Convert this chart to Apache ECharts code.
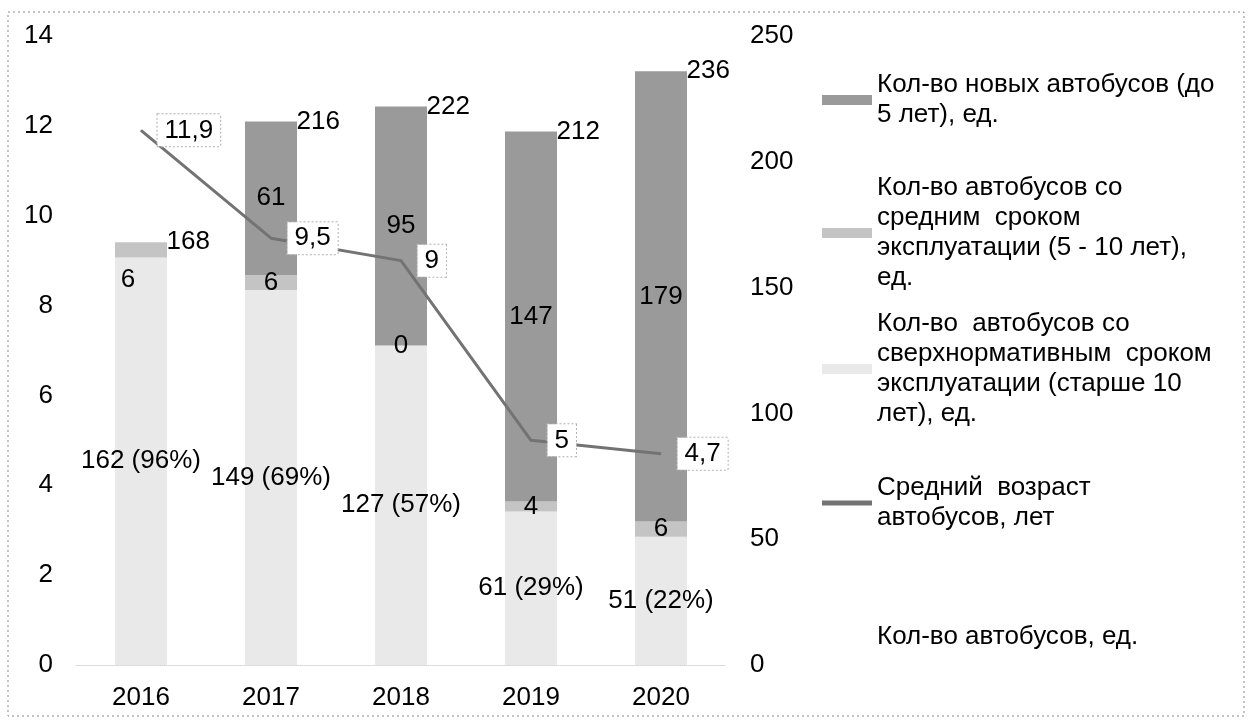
<!DOCTYPE html>
<html>
<head>
<meta charset="utf-8">
<script src="https://cdn.jsdelivr.net/npm/echarts@6/dist/echarts.min.js"></script>
<style>
html,body{margin:0;padding:0;background:#fff;}
#chart{width:1253px;height:724px;}
</style>
</head>
<body>
<div id="chart"></div>
<script>
// ---- data ----
var years = ['2016', '2017', '2018', '2019', '2020'];
var oldBuses = [162, 149, 127, 61, 51];      // старше 10 лет
var midBuses = [6, 6, 0, 4, 6];              // 5 - 10 лет
var newBuses = [null, 61, 95, 147, 179];     // до 5 лет
var totalBuses = [168, 216, 222, 212, 236];  // всего
var avgAge = [11.9, 9.5, 9, 5, 4.7];         // средний возраст, лет
var leftTicks = [0, 14, 2];
var rightTicks = [0, 250, 50];

var nameNew = 'Кол-во новых автобусов (до\n5 лет), ед.';
var nameMid = 'Кол-во автобусов со\nсредним  сроком\nэксплуатации (5 - 10 лет),\nед.';
var nameOld = 'Кол-во  автобусов со\nсверхнормативным  сроком\nэксплуатации (старше 10\nлет), ед.';
var nameAge = 'Средний  возраст\nавтобусов, лет';
var nameTot = 'Кол-во автобусов, ед.';

var FONT = '"Liberation Sans", Arial, sans-serif';
var FS = 26;
var LH = 30;

var cOld = '#e9e9e9', cMid = '#c4c4c4', cNew = '#9a9a9a', cLine = '#737373';

function legendAt(name, top, nLines, icon, iconH) {
  return {
    data: [{name: name, icon: icon}],
    orient: 'vertical',
    left: 822,
    top: top,
    padding: 0,
    itemWidth: 50,
    itemHeight: iconH,
    itemGap: 0,
    selectedMode: false,
    textStyle: {
      fontFamily: FONT, fontSize: FS, color: '#000', lineHeight: LH,
      padding: [(nLines - 1) * LH, 0, 0, 0]
    }
  };
}
function legendTop(c1, n) { return c1 - LH / 2 - (n - 1) * LH; }

var midData = midBuses.map(function (v, i) {
  if (i === 0) return {value: v, label: {offset: [-13, 30]}};
  return v;
});

var chart = echarts.init(document.getElementById('chart'));
chart.setOption({
  backgroundColor: '#fff',
  animation: false,
  textStyle: {fontFamily: FONT},
  graphic: [{
    type: 'rect',
    shape: {x: 8, y: 12, width: 1236, height: 704},
    style: {fill: 'none', stroke: '#888', lineWidth: 1, lineDash: [2, 3]},
    silent: true
  }],
  legend: [
    legendAt(nameNew, legendTop(100, 2), 2, 'rect', 10),
    legendAt(nameMid, legendTop(233, 4), 4, 'rect', 10),
    legendAt(nameOld, legendTop(369, 4), 4, 'rect', 10),
    legendAt(nameAge, legendTop(503, 2), 2, 'rect', 5),
    legendAt(nameTot, legendTop(637, 1), 1, 'none', 10)
  ],
  grid: {left: 76, right: 527, top: 36, bottom: 59, containLabel: false},
  xAxis: {
    type: 'category',
    data: years,
    axisLine: {show: true, lineStyle: {color: '#d5d5d5', type: 'dotted'}},
    axisTick: {show: false},
    axisLabel: {fontSize: FS, color: '#000', margin: 20, fontFamily: FONT}
  },
  yAxis: [{
    type: 'value',
    position: 'left',
    min: leftTicks[0], max: leftTicks[1], interval: leftTicks[2],
    splitLine: {show: false},
    axisLine: {show: false},
    axisTick: {show: false},
    axisLabel: {fontSize: FS, color: '#000', margin: 23, fontFamily: FONT}
  }, {
    type: 'value',
    position: 'right',
    min: rightTicks[0], max: rightTicks[1], interval: rightTicks[2],
    splitLine: {show: false},
    axisLine: {show: false},
    axisTick: {show: false},
    axisLabel: {fontSize: FS, color: '#000', margin: 24, fontFamily: FONT}
  }],
  series: [{
    name: nameOld,
    type: 'bar',
    stack: 'buses',
    yAxisIndex: 1,
    barWidth: 52,
    data: oldBuses,
    itemStyle: {color: cOld},
    label: {
      show: true, position: 'inside', color: '#000', fontSize: FS, fontFamily: FONT,
      formatter: function (p) {
        return p.value + ' (' + Math.round(p.value / totalBuses[p.dataIndex] * 100) + '%)';
      }
    },
    z: 2
  }, {
    name: nameMid,
    type: 'bar',
    stack: 'buses',
    yAxisIndex: 1,
    barWidth: 52,
    data: midData,
    itemStyle: {color: cMid},
    label: {show: true, position: 'inside', color: '#000', fontSize: FS, fontFamily: FONT},
    z: 2
  }, {
    name: nameNew,
    type: 'bar',
    stack: 'buses',
    yAxisIndex: 1,
    barWidth: 52,
    data: newBuses,
    itemStyle: {color: cNew},
    label: {show: true, position: 'inside', color: '#000', fontSize: FS, fontFamily: FONT},
    z: 2
  }, {
    name: nameAge,
    type: 'line',
    yAxisIndex: 0,
    data: avgAge,
    symbol: 'circle',
    symbolSize: 1,
    showSymbol: true,
    lineStyle: {color: cLine, width: 3},
    itemStyle: {color: cLine},
    label: {
      show: true, position: 'right', distance: 16,
      color: '#000', fontSize: FS, fontFamily: FONT,
      backgroundColor: '#fff', borderColor: '#b0b0b0', borderWidth: 1, borderType: 'dotted',
      padding: [4, 7, 2, 7],
      formatter: function (p) { return String(p.value).replace('.', ','); }
    },
    z: 5
  }, {
    name: nameTot,
    type: 'line',
    yAxisIndex: 1,
    data: totalBuses,
    symbol: 'circle',
    symbolSize: 1,
    showSymbol: true,
    lineStyle: {opacity: 0},
    itemStyle: {color: 'rgba(0,0,0,0)'},
    label: {show: true, position: 'right', distance: 25, color: '#000', fontSize: FS, fontFamily: FONT},
    z: 4
  }]
});
</script>
</body>
</html>
